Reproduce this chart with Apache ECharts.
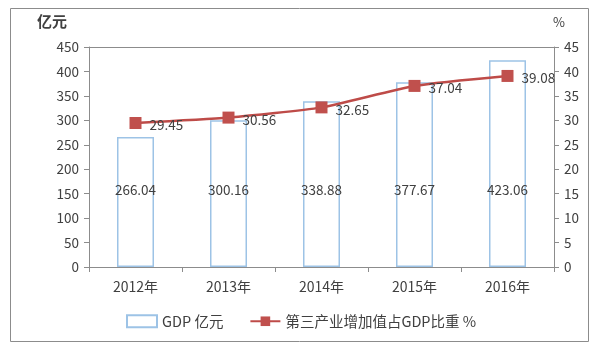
<!DOCTYPE html>
<html><head><meta charset="utf-8">
<script src="https://cdn.jsdelivr.net/npm/echarts@6/dist/echarts.min.js"></script>
<style>html,body{margin:0;padding:0;background:#fff}#c{width:600px;height:351px}</style>
</head><body><div id="c"></div>
<script>
const categories = ['2012年','2013年','2014年','2015年','2016年'];
const gdpValues = [266.04, 300.16, 338.88, 377.67, 423.06];
const ratioValues = [29.45, 30.56, 32.65, 37.04, 39.08];
const gdpName = 'GDP 亿元';
const ratioName = '第三产业增加值占GDP比重 %';

const txt = '#404040';
const font = '"Noto Sans CJK SC", "Open Sans", sans-serif';
const chart = echarts.init(document.getElementById('c'), null, {renderer:'canvas'});
chart.setOption({
  animation:false,
  textStyle:{fontFamily:font, color:txt},
  graphic:[
    {type:'rect', shape:{x:10.5,y:8.5,width:578,height:333}, style:{fill:'none',stroke:'#8c8c8c',lineWidth:1}, z:-1},
    {type:'rect', shape:{x:89.5,y:47.5,width:465,height:220}, style:{fill:'none',stroke:'#8c8c8c',lineWidth:1}, z:-1}
  ],
  grid:{left:89, top:47, width:465, height:220, containLabel:false},
  legend:{
    top:309, left:121, itemGap:26, itemWidth:30, itemHeight:12,
    textStyle:{fontSize:14.5, color:txt, fontFamily:font},
    data:[
      {name:gdpName, icon:'rect'},
      {name:ratioName}
    ]
  },
  xAxis:{
    type:'category', data:categories,
    axisLine:{lineStyle:{color:'#8c8c8c'}},
    axisTick:{show:true, alignWithLabel:false, length:5, lineStyle:{color:'#8c8c8c'}},
    axisLabel:{fontSize:14, color:txt, margin:13}
  },
  yAxis:[
    {type:'value', min:0, max:450, interval:50, name:'亿元',
     nameTextStyle:{fontSize:15, fontWeight:'bold', color:txt, padding:[0,74,6,0]},
     nameGap:12,
     axisLine:{show:true, lineStyle:{color:'#8c8c8c'}},
     axisTick:{show:true, length:5, lineStyle:{color:'#8c8c8c'}},
     splitLine:{show:false},
     axisLabel:{fontSize:13.5, color:txt, margin:10}},
    {type:'value', min:0, max:45, interval:5, name:'%', position:'right',
     nameTextStyle:{fontSize:13, color:txt, padding:[0,0,6,10]},
     nameGap:12,
     axisLine:{show:true, lineStyle:{color:'#8c8c8c'}},
     axisTick:{show:true, length:5, lineStyle:{color:'#8c8c8c'}},
     splitLine:{show:false},
     axisLabel:{fontSize:13.5, color:txt, margin:10}}
  ],
  series:[
    {name:gdpName, type:'bar', data:gdpValues, barWidth:37, yAxisIndex:0,
     itemStyle:{color:'#ffffff', borderColor:'#9dc3e6', borderWidth:1.5},
     label:{show:true, position:'insideBottom', distance:70, fontSize:13.5, color:txt}},
    {name:ratioName, type:'line', data:ratioValues, yAxisIndex:1, smooth:0.2,
     symbol:'rect', symbolSize:12,
     lineStyle:{color:'#be4b48', width:2.5},
     itemStyle:{color:'#c0504d'},
     label:{show:true, position:'right', distance:8, fontSize:13.5, color:txt, offset:[0,2]}}
  ]
});
</script></body></html>
